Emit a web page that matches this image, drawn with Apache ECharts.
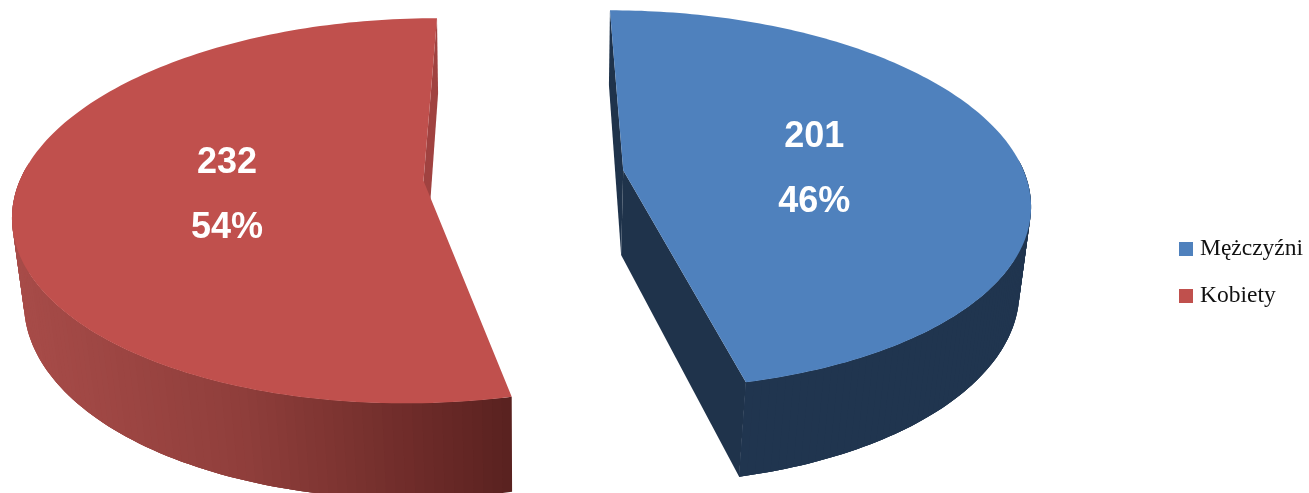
<!DOCTYPE html>
<html><head><meta charset="utf-8">
<style>html,body{margin:0;padding:0;background:#fff}#c{width:1309px;height:493px}</style>
<script src="https://cdn.jsdelivr.net/npm/echarts@6/dist/echarts.min.js"></script>
</head><body><div id="c"></div>
<script>
var categories = ['Mężczyźni', 'Kobiety'];
var values = [201, 232];
var percentLabels = ['46%', '54%'];
var topColors = ['#4f81bd', '#c0504d'];
var radialWallColors = ['#1f334b', '#a04240'];

var total = values[0] + values[1];
var CX = 523.8, CY = 175.5, RX = 402, RY = 186.3, P = 0.155, EXPLODE = 0.25;
function project(X, Y) {
  var s = 1 / (1 + P * Y);
  return [CX + RX * X * s, CY - RY * Y * s];
}
function lower(pt, Y) {
  var k = 0.9785 + 0.0095 * Y;
  return [CX + (pt[0] - CX) * k, pt[1] + 85 - 10 * Y];
}
function slicePath(a0, a1, mid) {
  var ex = EXPLODE * Math.sin(mid), ey = EXPLODE * Math.cos(mid);
  var top = [], bot = [], ang = [], n = 160;
  for (var i = 0; i <= n; i++) {
    var a = a0 + (a1 - a0) * i / n;
    var X = ex + Math.sin(a), Y = ey + Math.cos(a);
    var p = project(X, Y);
    top.push(p); bot.push(lower(p, Y)); ang.push(a);
  }
  var apex = project(ex, ey), apexB = lower(apex, ey);
  return {top: top, bot: bot, ang: ang, apex: apex, apexB: apexB, ex: ex, ey: ey};
}
function redWall(t) {
  var stops = [[0, [168, 76, 73]], [0.45, [143, 62, 59]], [0.78, [111, 44, 42]], [1, [87, 33, 31]]];
  for (var i = 1; i < stops.length; i++) {
    if (t <= stops[i][0]) {
      var f = (t - stops[i - 1][0]) / (stops[i][0] - stops[i - 1][0]);
      var a = stops[i - 1][1], b = stops[i][1];
      return 'rgb(' + [0, 1, 2].map(function (c) { return Math.round(a[c] + (b[c] - a[c]) * f); }).join(',') + ')';
    }
  }
  return 'rgb(87,33,31)';
}
function makeRender(idx) {
  return function (params, api) {
    var before = 0;
    for (var i = 0; i < idx; i++) before += values[i];
    var v = api.value(0);
    var a0 = before / total * 2 * Math.PI, a1 = (before + v) / total * 2 * Math.PI;
    var mid = (a0 + a1) / 2;
    var g = slicePath(a0, a1, mid);
    var last = g.top.length - 1;
    var children = [];
    // radial walls that face the viewer
    children.push({type: 'polygon', shape: {points: [g.top[last], g.bot[last], g.apexB, g.apex]}, style: {fill: radialWallColors[idx]}});
    if (idx === 0) {
      children.push({type: 'polygon', shape: {points: [g.top[0], g.bot[0], g.apexB, g.apex]}, style: {fill: radialWallColors[idx]}});
    }
    // outer wall, as overlapping opaque strips so no seams show
    var order = [];
    for (var k = 0; k < last; k++) {
      if (Math.cos(g.ang[k]) > 0.05 && Math.cos(g.ang[k + 1]) > 0.05) continue;
      order.push(k);
    }
    order.forEach(function (k) {
      var e = Math.min(last, k + 3);
      var mx = (g.top[k][0] + g.bot[e][0]) / 2;
      var col = idx === 0 ? '#20354f' : redWall(Math.max(0, Math.min(1, (mx - 12) / 500)));
      var pts = [];
      for (var j = k; j <= e; j++) pts.push(g.top[j]);
      for (var m = e; m >= k; m--) pts.push(g.bot[m]);
      children.push({type: 'polygon', shape: {points: pts}, style: {fill: col}});
    });
    children.push({type: 'polygon', shape: {points: [g.apex].concat(g.top)}, style: {fill: topColors[idx]}});
    var r = 0.485, lx = g.ex + r * Math.sin(mid), ly = g.ey + r * Math.cos(mid);
    var lp = project(lx, ly * 0.85);
    children.push({type: 'text', x: lp[0], y: lp[1] + 6.5, style: {
      text: v + '\n' + percentLabels[idx], fill: '#fff', align: 'center', verticalAlign: 'middle',
      font: 'bold 36px "Liberation Sans"', lineHeight: 65}});
    return {type: 'group', silent: true, children: children};
  };
}
var chart = echarts.init(document.getElementById('c'), null, {renderer: 'canvas', width: 1309, height: 493});
chart.setOption({
  animation: false,
  backgroundColor: '#fff',
  legend: {
    data: categories, orient: 'vertical', left: 1179, top: 237,
    icon: 'rect', itemWidth: 14, itemHeight: 14, itemGap: 23, selectedMode: false, padding: 0,
    textStyle: {fontFamily: 'Liberation Serif', fontSize: 23.5, color: '#111', lineHeight: 14, padding: [0, 0, 0, 2]}
  },
  series: categories.map(function (name, i) {
    return {type: 'custom', name: name, coordinateSystem: 'none', silent: true,
      itemStyle: {color: topColors[i]}, renderItem: makeRender(i), data: [[values[i]]]};
  })
});
</script></body></html>
